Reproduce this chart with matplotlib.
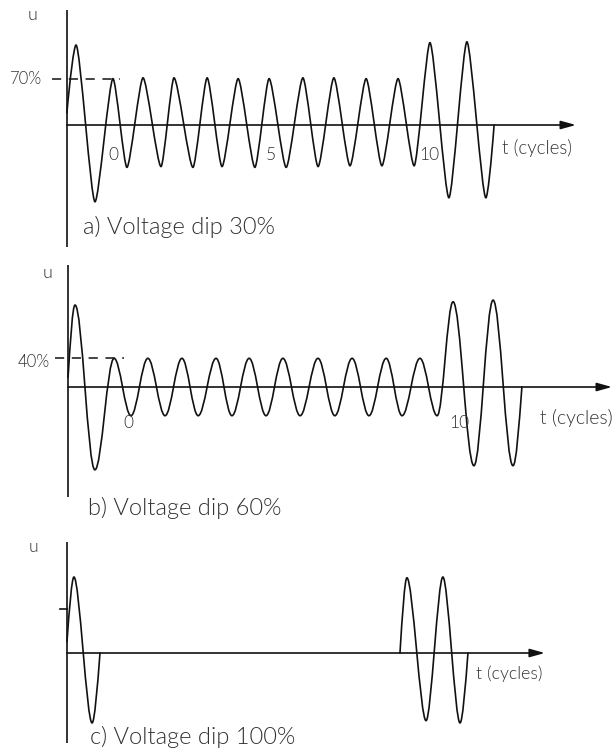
import matplotlib
matplotlib.use("Agg")
import matplotlib.pyplot as plt
from matplotlib.path import Path
from matplotlib.patches import PathPatch

plt.rcParams['font.family'] = ['Lato', 'DejaVu Sans']
plt.rcParams['font.weight'] = 300

# panel a: 30% dip, turning points of the waveform (t in cycles, u per unit)
ta = [-1.46, -1.17, -0.57, 0.00, 0.44, 0.95, 1.52, 1.93, 2.53, 2.98, 3.45, 3.96, 4.49, 4.94,
      5.48, 6.01, 6.49, 6.99, 7.50, 8.01, 8.51, 9.02, 9.53, 10.03, 10.63, 11.20, 11.80, 12.06]
ua = [0.15, 1.00, -0.96, 0.58, -0.53, 0.59, -0.52, 0.59, -0.53, 0.59, -0.52, 0.58, -0.53, 0.58,
      -0.53, 0.59, -0.52, 0.59, -0.51, 0.58, -0.51, 0.58, -0.51, 1.03, -0.91, 1.04, -0.91, 0.00]

# panel b: 60% dip
tb = [-1.81, -1.60, -1.00, -0.42, 0.09, 0.60, 1.12, 1.63, 2.12, 2.66, 3.14, 3.66, 4.17, 4.68,
      5.20, 5.74, 6.25, 6.77, 7.28, 7.80, 8.28, 8.82, 9.34, 9.82, 10.45, 11.03, 11.63, 11.90]
ub = [0.12, 1.00, -1.01, 0.35, -0.35, 0.35, -0.35, 0.35, -0.35, 0.35, -0.35, 0.35, -0.35, 0.35,
      -0.35, 0.35, -0.35, 0.35, -0.35, 0.35, -0.35, 0.35, -0.35, 1.04, -0.96, 1.06, -0.96, 0.00]

# panel c: 100% dip (voltage gone between the two pieces)
tc1 = [-1.00, -0.79, -0.24, 0.00]
uc1 = [0.15, 1.00, -0.92, 0.00]
tc2 = [9.09, 9.30, 9.88, 10.39, 10.91, 11.15]
uc2 = [0.00, 0.99, -0.89, 1.00, -0.92, 0.00]

ticks_a = [0, 5, 10]
ticks_b = [0, 10]
level_a = 0.58   # "70%" marker
level_b = 0.35   # "40%" marker
level_c = 0.58

INK = '#111111'
TXT = '#333333'


def wave(ax, t, u, k):
    # smooth curve through the turning points (horizontal tangent at each peak)
    verts = [(t[0], u[0])]
    codes = [Path.MOVETO]
    n = len(t)
    for i in range(n - 1):
        t0, u0, t1, u1 = t[i], u[i], t[i + 1], u[i + 1]
        dt, du = t1 - t0, u1 - u0
        if i == 0:
            c0 = (t0 + dt / 3, u0 + du * 0.5)
        else:
            c0 = (t0 + k * dt, u0)
        if i == n - 2:
            c1 = (t1 - dt / 3, u1 - du * 0.5)
        else:
            c1 = (t1 - k * dt, u1)
        verts += [c0, c1, (t1, u1)]
        codes += [Path.CURVE4] * 3
    ax.add_patch(PathPatch(Path(verts, codes), fill=False, lw=1.2, color=INK,
                           capstyle='round', joinstyle='round'))


def axes_lines(ax, x0, y_top, y_bot, x_tip):
    ax.plot([x0, x0], [y_bot, y_top], color=INK, lw=1.2, solid_capstyle='butt')
    ax.annotate('', xy=(x_tip, 0), xytext=(x0, 0),
                arrowprops=dict(arrowstyle='-|>,head_length=0.9,head_width=0.25',
                                mutation_scale=10, lw=1.2, color=INK,
                                shrinkA=0, shrinkB=0))


fig = plt.figure(figsize=(6.16, 7.51), dpi=100)

# ---- a) ----
ax = fig.add_axes([0, 501 / 751, 1, 250 / 751])
ax.set_xlim(-3.576, 15.918)
ax.set_ylim(-1.5625, 1.5625)
ax.axis('off')
axes_lines(ax, ta[0], 1.44, -1.525, 14.65)
wave(ax, ta, ua, 0.22)
ax.plot([-1.93, 0.22], [level_a, level_a], color=INK, lw=1.1, dashes=(6, 5))
ax.text(-2.25, level_a, '70%', ha='right', va='center', fontsize=12, color=TXT)
ax.text(-2.53, 1.375, 'u', ha='center', va='center', fontsize=13, color=TXT)
for tk in ticks_a:
    ax.text(tk, -0.37, str(tk), ha='center', va='center', fontsize=12.5, color=TXT)
ax.text(12.31, -0.29, 't (cycles)', ha='left', va='center', fontsize=13.5, color=TXT)
ax.text(-0.95, -1.275, 'a) Voltage dip 30%', ha='left', va='center', fontsize=17, color=TXT)

# ---- b) ----
ax = fig.add_axes([0, 221 / 751, 1, 280 / 751])
ax.set_xlim(-3.867, 14.743)
ax.set_ylim(-1.744, 1.671)
ax.axis('off')
axes_lines(ax, tb[0], 1.488, -1.341, 14.62)
wave(ax, tb, ub, 0.36)
ax.plot([-2.20, -0.12], [level_b, level_b], color=INK, lw=1.1, dashes=(6, 5))
ax.text(-2.36, 0.31, '40%', ha='right', va='center', fontsize=12, color=TXT)
ax.text(-2.42, 1.39, 'u', ha='center', va='center', fontsize=13, color=TXT)
for tk in ticks_b:
    ax.text(tk, -0.44, str(tk), ha='center', va='center', fontsize=12.5, color=TXT)
ax.text(12.45, -0.378, 't (cycles)', ha='left', va='center', fontsize=14, color=TXT)
ax.text(-1.208, -1.476, 'b) Voltage dip 60%', ha='left', va='center', fontsize=17, color=TXT)

# ---- c) ----
ax = fig.add_axes([0, 0, 1, 221 / 751])
ax.set_xlim(-3.030, 15.636)
ax.set_ylim(-1.289, 1.618)
ax.axis('off')
axes_lines(ax, tc1[0], 1.46, -1.184, 13.48)
wave(ax, tc1, uc1, 0.3)
wave(ax, tc2, uc2, 0.3)
ax.plot([-1.21, tc1[0]], [level_c, level_c], color=INK, lw=1.2)
ax.text(-2.03, 1.395, 'u', ha='center', va='center', fontsize=12.5, color=TXT)
ax.text(11.39, -0.276, 't (cycles)', ha='left', va='center', fontsize=12.8, color=TXT)
ax.text(-0.303, -1.105, 'c) Voltage dip 100%', ha='left', va='center', fontsize=17, color=TXT)

fig.savefig('out.png', dpi=100)
